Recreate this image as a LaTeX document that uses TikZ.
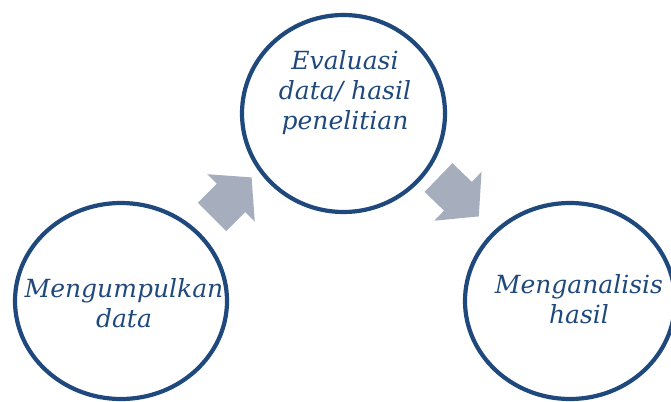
\documentclass[tikz,border=0pt]{standalone}
\usepackage{fontspec}
\setmainfont{DejaVu Serif}
\usetikzlibrary{shapes.geometric}
\definecolor{ringblue}{HTML}{1F497D}
\definecolor{arrowgray}{HTML}{A6ADBD}
\tikzset{
  ring/.style={ellipse, draw=ringblue, line width=4.2pt, inner sep=0pt},
  ringtext/.style={text=ringblue, align=center, inner sep=0pt,
    font=\itshape\fontsize{25}{30}\selectfont},
  blockarrow/.style={fill=arrowgray}
}
\begin{document}
\begin{tikzpicture}[x=1pt,y=-1pt]
  \useasboundingbox (0,0) rectangle (671,401);
  % the three steps
  \node[ring, minimum width=212pt, minimum height=196pt] (collect) at (121,301) {};
  \node[ring, minimum width=203pt, minimum height=197pt] (evaluate) at (343.5,113.5) {};
  \node[ring, minimum width=210pt, minimum height=196pt] (analyse) at (570,301) {};
  \node[ringtext] (collect-text) at (124,303.5) {Mengumpulkan\\data};
  \node[ringtext] (evaluate-text) at (345,92.5) {Evaluasi\\data/ hasil\\penelitian};
  \node[ringtext] (analyse-text) at (579,299.5) {Menganalisis\\hasil};
  % block arrows between them
  \fill[blockarrow, shift={(212,217)}, rotate=45]
    (0,-20) -- (27,-20) -- (27,-33.5) -- (56,0) -- (27,33.5) -- (27,20) -- (0,20) -- cycle;
  \fill[blockarrow, shift={(438.5,177.5)}, rotate=-44]
    (0,-20) -- (27,-20) -- (27,-34) -- (56,0) -- (27,34) -- (27,20) -- (0,20) -- cycle;
\end{tikzpicture}
\end{document}
